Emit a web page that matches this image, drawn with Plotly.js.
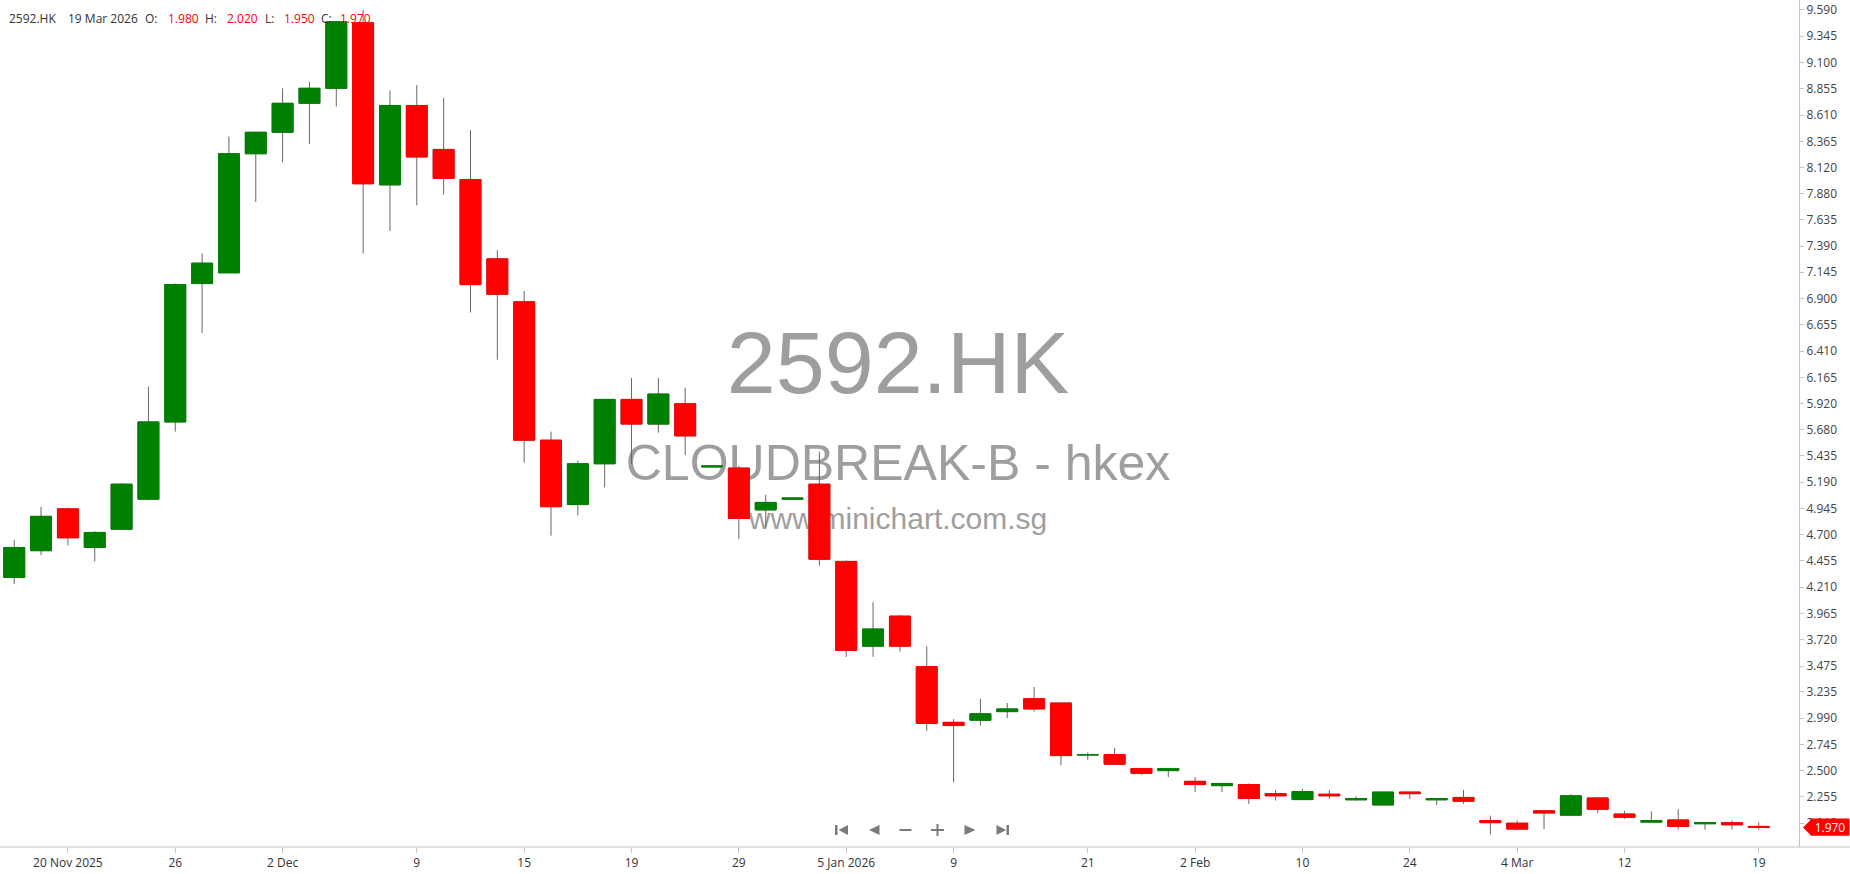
<!DOCTYPE html>
<html>
<head>
<meta charset="utf-8">
<script src="https://cdn.plot.ly/plotly-3.0.1.min.js"></script>
<style>
html,body{margin:0;padding:0;background:#fff;overflow:hidden}
#chart{width:1850px;height:874px}
</style>
</head>
<body>
<div id="chart"></div>
<script>
// ---------------- DATA ----------------
const symbol = '2592.HK';
const companyName = 'CLOUDBREAK-B - hkex';
const website = 'www.minichart.com.sg';

const dates = [
  '2025-11-18','2025-11-19','2025-11-20','2025-11-21','2025-11-24','2025-11-25','2025-11-26','2025-11-27','2025-11-28',
  '2025-12-01','2025-12-02','2025-12-03','2025-12-04','2025-12-05','2025-12-08','2025-12-09','2025-12-10','2025-12-11',
  '2025-12-12','2025-12-15','2025-12-16','2025-12-17','2025-12-18','2025-12-19','2025-12-22','2025-12-23','2025-12-24',
  '2025-12-29','2025-12-30','2025-12-31','2026-01-02','2026-01-05','2026-01-06','2026-01-07','2026-01-08','2026-01-09',
  '2026-01-12','2026-01-13','2026-01-14','2026-01-15','2026-01-21','2026-01-22','2026-01-23','2026-01-26','2026-02-02',
  '2026-02-03','2026-02-04','2026-02-05','2026-02-10','2026-02-11','2026-02-12','2026-02-13','2026-02-24','2026-02-25',
  '2026-02-26','2026-03-03','2026-03-04','2026-03-05','2026-03-09','2026-03-10','2026-03-12','2026-03-13','2026-03-16',
  '2026-03-17','2026-03-18','2026-03-19'
];
const openPrices = [
  4.30,4.55,4.94,4.58,4.75,5.03,5.75,7.04,7.14,8.25,8.45,8.72,8.86,9.47,7.96,8.70,8.29,8.01,7.27,6.87,5.58,4.98,
  5.36,5.96,5.73,5.92,5.33,5.32,4.93,5.03,5.17,4.45,3.66,3.94,3.47,2.95,2.97,3.05,3.17,3.13,2.645,2.65,2.52,2.50,
  2.40,2.36,2.37,2.285,2.23,2.28,2.228,2.18,2.30,2.228,2.25,2.035,2.01,2.125,2.085,2.245,2.095,2.02,2.04,2.005,2.015,1.98
];
const highPrices = [
  4.65,4.96,4.95,4.73,5.18,6.08,7.04,7.32,8.41,8.45,8.86,8.92,9.48,9.59,8.84,8.89,8.77,8.47,7.35,6.97,5.66,5.39,
  5.96,6.16,6.16,6.07,5.345,5.34,5.07,5.05,5.47,4.46,4.07,3.95,3.66,2.98,3.17,3.13,3.28,3.13,2.67,2.71,2.52,2.52,
  2.44,2.38,2.38,2.32,2.33,2.32,2.26,2.30,2.30,2.24,2.32,2.08,2.035,2.13,2.28,2.255,2.125,2.12,2.14,2.02,2.035,2.02
];
const lowPrices = [
  4.24,4.51,4.60,4.45,4.75,5.02,5.66,6.58,7.14,7.80,8.17,8.34,8.69,7.32,7.53,7.77,7.87,6.77,6.33,5.37,4.69,4.88,
  5.14,5.36,5.65,5.44,5.33,4.66,4.77,5.03,4.41,3.56,3.56,3.61,2.87,2.39,2.92,2.99,3.05,2.55,2.60,2.56,2.46,2.44,
  2.30,2.30,2.19,2.22,2.23,2.235,2.22,2.18,2.235,2.18,2.19,1.905,1.95,1.955,2.085,2.105,2.05,2.02,1.95,1.95,1.95,1.95
];
const closePrices = [
  4.58,4.87,4.67,4.72,5.17,5.75,7.03,7.23,8.25,8.45,8.72,8.86,9.48,7.97,8.70,8.22,8.02,7.03,6.94,5.58,4.96,5.36,
  5.96,5.73,6.01,5.62,5.34,4.85,5.00,5.04,4.47,3.62,3.82,3.66,2.94,2.92,3.03,3.075,3.075,2.64,2.65,2.56,2.475,2.52,
  2.37,2.38,2.24,2.265,2.305,2.265,2.24,2.30,2.285,2.24,2.215,2.015,1.955,2.105,2.265,2.14,2.065,2.035,1.98,2.015,1.995,1.97
];

const xTickDates = ['2025-11-20','2025-11-26','2025-12-02','2025-12-09','2025-12-15','2025-12-19','2025-12-29','2026-01-05',
  '2026-01-09','2026-01-21','2026-02-02','2026-02-10','2026-02-24','2026-03-04','2026-03-12','2026-03-19'];
const xTickLabels = ['20 Nov 2025','26','2 Dec','9','15','19','29','5 Jan 2026','9','21','2 Feb','10','24','4 Mar','12','19'];

const yTickValues = [9.590,9.345,9.100,8.855,8.610,8.365,8.120,7.880,7.635,7.390,7.145,6.900,6.655,6.410,6.165,5.920,
  5.680,5.435,5.190,4.945,4.700,4.455,4.210,3.965,3.720,3.475,3.235,2.990,2.745,2.500,2.255,2.010];

// ---------------- LAYOUT HELPERS ----------------
const W = 1850, H = 874;
const M = {l: 0, r: 51, t: 0, b: 27};
const plotW = W - M.l - M.r, plotH = H - M.t - M.b;
const yMin = 1.788, yMax = 9.683;
const xMin = -0.53, xMax = 66.5;
const px = x => x / plotW;                 // pixel x -> paper
const py = y => 1 - y / plotH;             // pixel y (from top) -> paper
const priceToPaper = p => (p - yMin) / (yMax - yMin);

const GREEN = '#008000', RED = '#ff0000', WICK = '#666666', AXIS = '#c4c4c4';
const FONT = 'Open Sans, Noto Sans, sans-serif';

const n = dates.length;
const last = n - 1;
const bodyTop = openPrices.map((o, i) => Math.max(o, closePrices[i]));
const bodyBot = openPrices.map((o, i) => Math.min(o, closePrices[i]));

function fmtDate(s) {
  const mon = ['Jan','Feb','Mar','Apr','May','Jun','Jul','Aug','Sep','Oct','Nov','Dec'];
  const [y, m, d] = s.split('-').map(Number);
  return d + ' ' + mon[m - 1] + ' ' + y;
}

// ---------------- TRACES ----------------
const watermark = {
  type: 'scatter', mode: 'text', xaxis: 'x', yaxis: 'y',
  x: [0.4992, 0.4992, 0.4992],
  y: [0.562, 0.448, 0.384],
  text: [symbol, companyName, website],
  textposition: 'middle center',
  textfont: {family: 'Liberation Sans, Arial, sans-serif', size: [88, 50, 30], color: '#9e9e9e'},
  hoverinfo: 'skip', showlegend: false
};

const wicks = {
  type: 'candlestick', xaxis: 'x2', yaxis: 'y2',
  x: dates, open: openPrices, high: highPrices, low: lowPrices, close: closePrices,
  increasing: {line: {color: WICK, width: 1}, fillcolor: GREEN},
  decreasing: {line: {color: WICK, width: 1}, fillcolor: RED},
  whiskerwidth: 0, hoverinfo: 'skip', showlegend: false
};

const bodies = {
  type: 'candlestick', xaxis: 'x2', yaxis: 'y2',
  x: dates, open: openPrices, high: bodyTop, low: bodyBot, close: closePrices,
  increasing: {line: {color: GREEN, width: 1}, fillcolor: GREEN},
  decreasing: {line: {color: RED, width: 1}, fillcolor: RED},
  whiskerwidth: 0, hoverinfo: 'skip', showlegend: false
};

// ---------------- ANNOTATIONS ----------------
const annotations = [];
const hdrY = py(18.5);
const header = [
  [6.5, symbol, '#333333'],
  [66, fmtDate(dates[last]), '#333333'],
  [143, 'O:', '#333333'], [166, openPrices[last].toFixed(3), RED],
  [203, 'H:', '#333333'], [225, highPrices[last].toFixed(3), RED],
  [263, 'L:', '#333333'], [282, lowPrices[last].toFixed(3), RED],
  [319, 'C:', '#333333'], [338, closePrices[last].toFixed(3), RED]
];
header.forEach(([x, t, c]) => annotations.push({
  xref: 'paper', yref: 'paper', x: px(x), y: hdrY, xanchor: 'left', yanchor: 'middle',
  text: t, showarrow: false, font: {family: FONT, size: 12, color: c}
}));

// last price tag (box covers the lower part of the neighbouring tick label, as in the reference)
const tagY = priceToPaper(closePrices[last]);
annotations.push({
  xref: 'paper', yref: 'paper', x: px(1830), y: tagY, xanchor: 'center', yanchor: 'middle',
  text: closePrices[last].toFixed(3), showarrow: false,
  bgcolor: RED, borderpad: 1, width: 36, height: 14,
  font: {family: FONT, size: 12, color: '#ffffff'}
});

// ---------------- SHAPES ----------------
const shapes = [];
const halfTag = 8 / plotH;
shapes.push({
  type: 'path', xref: 'paper', yref: 'paper', layer: 'above',
  path: `M ${px(1803)},${tagY} L ${px(1811)},${tagY + halfTag} L ${px(1849)},${tagY + halfTag} L ${px(1849)},${tagY - halfTag} L ${px(1811)},${tagY - halfTag} Z`,
  fillcolor: RED, line: {width: 0}
});
// bottom axis line across full width
shapes.push({type: 'line', xref: 'paper', yref: 'paper', x0: 0, x1: W / plotW, y0: 0, y1: 0,
  line: {color: AXIS, width: 1}, layer: 'above'});

// navigation icons
const NAV = '#7a7a7a';
const tri = (x0, x1, yc, h) => `M ${px(x0)},${py(yc)} L ${px(x1)},${py(yc - h)} L ${px(x1)},${py(yc + h)} Z`;
const rect = (x0, x1, y0, y1) => ({type: 'rect', xref: 'paper', yref: 'paper', x0: px(x0), x1: px(x1), y0: py(y1), y1: py(y0), fillcolor: NAV, line: {width: 0}});
const yc = 830;
shapes.push(rect(835, 837.5, 825, 835));
shapes.push({type: 'path', xref: 'paper', yref: 'paper', path: tri(838.5, 848, yc, 5), fillcolor: NAV, line: {width: 0}});
shapes.push({type: 'path', xref: 'paper', yref: 'paper', path: tri(869, 879.5, yc, 5), fillcolor: NAV, line: {width: 0}});
shapes.push(rect(899.5, 911.5, 829, 831));
shapes.push(rect(931, 944, 829, 831));
shapes.push(rect(936.5, 938.5, 824, 836));
shapes.push({type: 'path', xref: 'paper', yref: 'paper', path: tri(975.5, 964.5, yc, 5), fillcolor: NAV, line: {width: 0}});
shapes.push({type: 'path', xref: 'paper', yref: 'paper', path: tri(1006, 996.5, yc, 5), fillcolor: NAV, line: {width: 0}});
shapes.push(rect(1006.5, 1009, 825, 835));

// ---------------- LAYOUT ----------------
const layout = {
  width: W, height: H,
  margin: M,
  paper_bgcolor: '#ffffff', plot_bgcolor: '#ffffff',
  showlegend: false,
  boxgap: 0.22, boxgroupgap: 0, boxmode: 'overlay',
  xaxis: {domain: [0, 1], range: [0, 1], visible: false, fixedrange: true},
  yaxis: {domain: [0, 1], range: [0, 1], visible: false, fixedrange: true},
  xaxis2: {
    overlaying: 'x', anchor: 'y2', type: 'category', range: [xMin, xMax],
    tickmode: 'array', tickvals: xTickDates, ticktext: xTickLabels,
    ticks: 'outside', ticklen: 5, tickcolor: AXIS, tickwidth: 1,
    showgrid: false, zeroline: false, showline: false,
    tickfont: {family: FONT, size: 12, color: '#333333'},
    rangeslider: {visible: false}, fixedrange: true
  },
  yaxis2: {
    overlaying: 'y', anchor: 'x2', side: 'right', range: [yMin, yMax],
    tickmode: 'array', tickvals: yTickValues, ticktext: yTickValues.map(v => v.toFixed(3)),
    ticks: 'outside', ticklen: 4, tickcolor: AXIS, tickwidth: 1,
    showgrid: false, zeroline: false, showline: true, linecolor: AXIS, linewidth: 1,
    tickfont: {family: FONT, size: 12, color: '#444444'}, fixedrange: true
  },
  annotations: annotations,
  shapes: shapes
};

Plotly.newPlot('chart', [watermark, wicks, bodies], layout, {displayModeBar: false, staticPlot: true});
</script>
</body>
</html>
